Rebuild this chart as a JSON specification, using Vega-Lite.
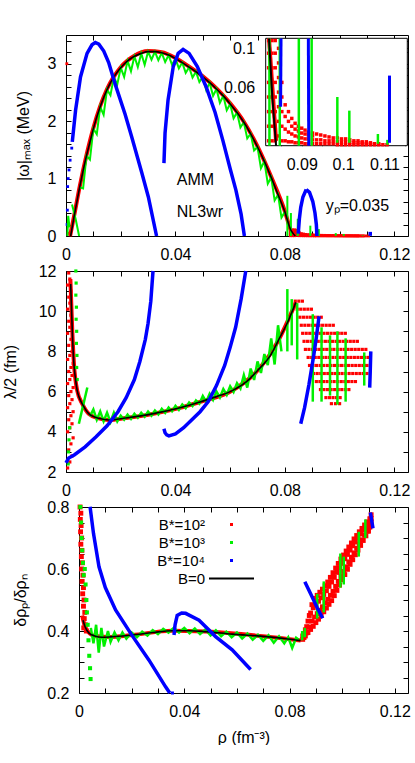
{
"$schema":"https://vega.github.io/schema/vega-lite/v6.json",
"padding":{"left":2,"top":30,"right":0,"bottom":0},
"background":"white",
"config":{
 "view":{"stroke":null},
 "font":"Liberation Sans",
 "axis":{"grid":false,"labelFont":"Liberation Sans","labelFontSize":16,"titleFont":"Liberation Sans","titleFontSize":16,"titleFontWeight":"normal","labelColor":"#000","titleColor":"#000","domainColor":"#000","tickColor":"#000","tickSize":-5,"labelPadding":15,"labelFlush":false,"labelOverlap":false,"labelBound":false},
 "text":{"font":"Liberation Sans","fontSize":16,"color":"#000"}
},
"datasets":{
"p1":[
{"rho":0.0017,"v":0,"s":"k","c":"k1"},{"rho":0.003,"v":0.35,"s":"k","c":"k1"},{"rho":0.004,"v":0.6,"s":"k","c":"k1"},{"rho":0.005,"v":0.85,"s":"k","c":"k1"},{"rho":0.006,"v":1.08,"s":"k","c":"k1"},{"rho":0.0075,"v":1.4,"s":"k","c":"k1"},{"rho":0.009,"v":1.68,"s":"k","c":"k1"},{"rho":0.01,"v":1.87,"s":"k","c":"k1"},{"rho":0.0125,"v":2.25,"s":"k","c":"k1"},{"rho":0.015,"v":2.55,"s":"k","c":"k1"},{"rho":0.0175,"v":2.77,"s":"k","c":"k1"},{"rho":0.02,"v":2.93,"s":"k","c":"k1"},{"rho":0.0225,"v":3.05,"s":"k","c":"k1"},{"rho":0.025,"v":3.13,"s":"k","c":"k1"},{"rho":0.0275,"v":3.18,"s":"k","c":"k1"},{"rho":0.03,"v":3.21,"s":"k","c":"k1"},{"rho":0.0325,"v":3.21,"s":"k","c":"k1"},{"rho":0.035,"v":3.19,"s":"k","c":"k1"},{"rho":0.0375,"v":3.15,"s":"k","c":"k1"},{"rho":0.04,"v":3.09,"s":"k","c":"k1"},{"rho":0.0425,"v":3.02,"s":"k","c":"k1"},{"rho":0.045,"v":2.94,"s":"k","c":"k1"},{"rho":0.0475,"v":2.86,"s":"k","c":"k1"},{"rho":0.05,"v":2.77,"s":"k","c":"k1"},{"rho":0.0525,"v":2.67,"s":"k","c":"k1"},{"rho":0.055,"v":2.56,"s":"k","c":"k1"},{"rho":0.0575,"v":2.44,"s":"k","c":"k1"},{"rho":0.06,"v":2.3,"s":"k","c":"k1"},{"rho":0.0625,"v":2.15,"s":"k","c":"k1"},{"rho":0.065,"v":1.98,"s":"k","c":"k1"},{"rho":0.0675,"v":1.78,"s":"k","c":"k1"},{"rho":0.07,"v":1.55,"s":"k","c":"k1"},{"rho":0.0725,"v":1.3,"s":"k","c":"k1"},{"rho":0.075,"v":1.02,"s":"k","c":"k1"},{"rho":0.0775,"v":0.72,"s":"k","c":"k1"},{"rho":0.08,"v":0.42,"s":"k","c":"k1"},{"rho":0.0821,"v":0.11,"s":"k","c":"k1"},{"rho":0.0829,"v":0.05,"s":"k","c":"k1"},{"rho":0.0838,"v":0,"s":"k","c":"k1"},
{"rho":0.0015,"v":0,"s":"r","c":"r1"},{"rho":0.003,"v":0.36,"s":"r","c":"r1"},{"rho":0.005,"v":0.86,"s":"r","c":"r1"},{"rho":0.0075,"v":1.41,"s":"r","c":"r1"},{"rho":0.01,"v":1.88,"s":"r","c":"r1"},{"rho":0.0125,"v":2.26,"s":"r","c":"r1"},{"rho":0.015,"v":2.56,"s":"r","c":"r1"},{"rho":0.02,"v":2.94,"s":"r","c":"r1"},{"rho":0.025,"v":3.14,"s":"r","c":"r1"},{"rho":0.03,"v":3.22,"s":"r","c":"r1"},{"rho":0.035,"v":3.2,"s":"r","c":"r1"},{"rho":0.04,"v":3.1,"s":"r","c":"r1"},{"rho":0.045,"v":2.95,"s":"r","c":"r1"},{"rho":0.05,"v":2.78,"s":"r","c":"r1"},{"rho":0.055,"v":2.57,"s":"r","c":"r1"},{"rho":0.06,"v":2.31,"s":"r","c":"r1"},{"rho":0.065,"v":1.99,"s":"r","c":"r1"},{"rho":0.07,"v":1.56,"s":"r","c":"r1"},{"rho":0.075,"v":1.03,"s":"r","c":"r1"},{"rho":0.08,"v":0.43,"s":"r","c":"r1"},{"rho":0.0821,"v":0.11,"s":"r","c":"r1"},{"rho":0.0838,"v":0.005,"s":"r","c":"r1"},
{"rho":0.0003,"v":3.0,"s":"r","c":"p"},{"rho":0.001,"v":0.05,"s":"r","c":"p"},{"rho":0.0015,"v":0.02,"s":"r","c":"p"},
{"rho":0.082,"v":0.005,"s":"r","c":"p"},{"rho":0.082,"v":0.02,"s":"r","c":"p"},{"rho":0.082,"v":0.035,"s":"r","c":"p"},{"rho":0.082,"v":0.05,"s":"r","c":"p"},{"rho":0.082,"v":0.065,"s":"r","c":"p"},{"rho":0.082,"v":0.08,"s":"r","c":"p"},{"rho":0.082,"v":0.095,"s":"r","c":"p"},{"rho":0.082,"v":0.108,"s":"r","c":"p"},
{"rho":0.0828,"v":0.005,"s":"r","c":"p"},{"rho":0.0828,"v":0.02,"s":"r","c":"p"},{"rho":0.0828,"v":0.035,"s":"r","c":"p"},{"rho":0.0828,"v":0.05,"s":"r","c":"p"},{"rho":0.0828,"v":0.065,"s":"r","c":"p"},{"rho":0.0828,"v":0.08,"s":"r","c":"p"},{"rho":0.0828,"v":0.095,"s":"r","c":"p"},{"rho":0.0828,"v":0.108,"s":"r","c":"p"},
{"rho":0.0836,"v":0.005,"s":"r","c":"p"},{"rho":0.0836,"v":0.02,"s":"r","c":"p"},{"rho":0.0836,"v":0.035,"s":"r","c":"p"},{"rho":0.0836,"v":0.05,"s":"r","c":"p"},{"rho":0.0836,"v":0.065,"s":"r","c":"p"},{"rho":0.0836,"v":0.08,"s":"r","c":"p"},{"rho":0.0836,"v":0.095,"s":"r","c":"p"},{"rho":0.0836,"v":0.108,"s":"r","c":"p"},
{"rho":0.0844,"v":0.01,"s":"r","c":"p"},{"rho":0.0844,"v":0.025,"s":"r","c":"p"},{"rho":0.0844,"v":0.04,"s":"r","c":"p"},{"rho":0.0844,"v":0.055,"s":"r","c":"p"},{"rho":0.0844,"v":0.07,"s":"r","c":"p"},{"rho":0.0844,"v":0.085,"s":"r","c":"p"},{"rho":0.0844,"v":0.1,"s":"r","c":"p"},
{"rho":0.0852,"v":0.005,"s":"r","c":"p"},{"rho":0.0852,"v":0.02,"s":"r","c":"p"},{"rho":0.0852,"v":0.035,"s":"r","c":"p"},{"rho":0.0852,"v":0.05,"s":"r","c":"p"},{"rho":0.0852,"v":0.065,"s":"r","c":"p"},
{"rho":0.086,"v":0.005,"s":"r","c":"p"},{"rho":0.086,"v":0.017,"s":"r","c":"p"},{"rho":0.086,"v":0.03,"s":"r","c":"p"},{"rho":0.086,"v":0.042,"s":"r","c":"p"},
{"rho":0.0868,"v":0.004,"s":"r","c":"p"},{"rho":0.0868,"v":0.014,"s":"r","c":"p"},{"rho":0.0868,"v":0.025,"s":"r","c":"p"},{"rho":0.0868,"v":0.035,"s":"r","c":"p"},
{"rho":0.0876,"v":0.004,"s":"r","c":"p"},{"rho":0.0876,"v":0.012,"s":"r","c":"p"},{"rho":0.0876,"v":0.02,"s":"r","c":"p"},{"rho":0.0876,"v":0.028,"s":"r","c":"p"},
{"rho":0.0884,"v":0.003,"s":"r","c":"p"},{"rho":0.0884,"v":0.01,"s":"r","c":"p"},{"rho":0.0884,"v":0.017,"s":"r","c":"p"},{"rho":0.0884,"v":0.023,"s":"r","c":"p"},
{"rho":0.0892,"v":0.003,"s":"r","c":"p"},{"rho":0.0892,"v":0.009,"s":"r","c":"p"},{"rho":0.0892,"v":0.015,"s":"r","c":"p"},{"rho":0.0892,"v":0.02,"s":"r","c":"p"},
{"rho":0.09,"v":0.003,"s":"r","c":"p"},{"rho":0.09,"v":0.008,"s":"r","c":"p"},{"rho":0.09,"v":0.013,"s":"r","c":"p"},{"rho":0.09,"v":0.018,"s":"r","c":"p"},
{"rho":0.0908,"v":0.002,"s":"r","c":"p"},{"rho":0.0908,"v":0.007,"s":"r","c":"p"},{"rho":0.0908,"v":0.012,"s":"r","c":"p"},{"rho":0.0908,"v":0.016,"s":"r","c":"p"},
{"rho":0.0916,"v":0.002,"s":"r","c":"p"},{"rho":0.0916,"v":0.007,"s":"r","c":"p"},{"rho":0.0916,"v":0.011,"s":"r","c":"p"},{"rho":0.0916,"v":0.014,"s":"r","c":"p"},
{"rho":0.0926,"v":0.002,"s":"r","c":"p"},{"rho":0.0926,"v":0.006,"s":"r","c":"p"},{"rho":0.0926,"v":0.01,"s":"r","c":"p"},{"rho":0.0926,"v":0.013,"s":"r","c":"p"},
{"rho":0.0936,"v":0.002,"s":"r","c":"p"},{"rho":0.0936,"v":0.006,"s":"r","c":"p"},{"rho":0.0936,"v":0.012,"s":"r","c":"p"},
{"rho":0.0946,"v":0.002,"s":"r","c":"p"},{"rho":0.0946,"v":0.006,"s":"r","c":"p"},{"rho":0.0946,"v":0.011,"s":"r","c":"p"},
{"rho":0.0956,"v":0.002,"s":"r","c":"p"},{"rho":0.0956,"v":0.005,"s":"r","c":"p"},{"rho":0.0956,"v":0.01,"s":"r","c":"p"},
{"rho":0.0966,"v":0.002,"s":"r","c":"p"},{"rho":0.0966,"v":0.005,"s":"r","c":"p"},{"rho":0.0966,"v":0.009,"s":"r","c":"p"},
{"rho":0.0976,"v":0.002,"s":"r","c":"p"},{"rho":0.0976,"v":0.005,"s":"r","c":"p"},{"rho":0.0976,"v":0.008,"s":"r","c":"p"},
{"rho":0.0986,"v":0.001,"s":"r","c":"p"},{"rho":0.0986,"v":0.004,"s":"r","c":"p"},{"rho":0.0986,"v":0.008,"s":"r","c":"p"},
{"rho":0.0996,"v":0.001,"s":"r","c":"p"},{"rho":0.0996,"v":0.004,"s":"r","c":"p"},{"rho":0.0996,"v":0.007,"s":"r","c":"p"},
{"rho":0.1006,"v":0.001,"s":"r","c":"p"},{"rho":0.1006,"v":0.004,"s":"r","c":"p"},{"rho":0.1006,"v":0.007,"s":"r","c":"p"},
{"rho":0.1016,"v":0.001,"s":"r","c":"p"},{"rho":0.1016,"v":0.003,"s":"r","c":"p"},{"rho":0.1016,"v":0.006,"s":"r","c":"p"},
{"rho":0.1026,"v":0.001,"s":"r","c":"p"},{"rho":0.1026,"v":0.003,"s":"r","c":"p"},{"rho":0.1026,"v":0.005,"s":"r","c":"p"},
{"rho":0.1036,"v":0.001,"s":"r","c":"p"},{"rho":0.1036,"v":0.003,"s":"r","c":"p"},{"rho":0.1036,"v":0.005,"s":"r","c":"p"},
{"rho":0.1046,"v":0.001,"s":"r","c":"p"},{"rho":0.1046,"v":0.003,"s":"r","c":"p"},{"rho":0.1046,"v":0.004,"s":"r","c":"p"},
{"rho":0.1056,"v":0.001,"s":"r","c":"p"},{"rho":0.1056,"v":0.002,"s":"r","c":"p"},{"rho":0.1056,"v":0.004,"s":"r","c":"p"},
{"rho":0.1066,"v":0.001,"s":"r","c":"p"},{"rho":0.1066,"v":0.002,"s":"r","c":"p"},{"rho":0.1066,"v":0.003,"s":"r","c":"p"},
{"rho":0.1076,"v":0.001,"s":"r","c":"p"},{"rho":0.1076,"v":0.002,"s":"r","c":"p"},{"rho":0.1086,"v":0.001,"s":"r","c":"p"},{"rho":0.1086,"v":0.002,"s":"r","c":"p"},{"rho":0.1096,"v":0.001,"s":"r","c":"p"},{"rho":0.1106,"v":0.001,"s":"r","c":"p"},
{"rho":0.0005,"v":0,"s":"g","c":"g0"},{"rho":0.0008,"v":0.35,"s":"g","c":"g0"},{"rho":0.0013,"v":0.15,"s":"g","c":"g0"},
{"rho":0.0022,"v":0.55,"s":"g","c":"g2"},{"rho":0.0035,"v":0.3,"s":"g","c":"g2"},{"rho":0.0048,"v":0,"s":"g","c":"g2"},
{"rho":0.005,"v":0.85,"s":"g","c":"g1"},{"rho":0.00625,"v":0.83,"s":"g","c":"g1"},{"rho":0.0075,"v":1.4,"s":"g","c":"g1"},{"rho":0.00875,"v":1.33,"s":"g","c":"g1"},{"rho":0.01,"v":1.87,"s":"g","c":"g1"},{"rho":0.01125,"v":1.77,"s":"g","c":"g1"},{"rho":0.0125,"v":2.25,"s":"g","c":"g1"},{"rho":0.01375,"v":2.11,"s":"g","c":"g1"},{"rho":0.015,"v":2.55,"s":"g","c":"g1"},{"rho":0.01625,"v":2.45,"s":"g","c":"g1"},{"rho":0.0175,"v":2.77,"s":"g","c":"g1"},{"rho":0.01875,"v":2.64,"s":"g","c":"g1"},{"rho":0.02,"v":2.93,"s":"g","c":"g1"},{"rho":0.02125,"v":2.77,"s":"g","c":"g1"},{"rho":0.0225,"v":3.05,"s":"g","c":"g1"},{"rho":0.02375,"v":2.87,"s":"g","c":"g1"},{"rho":0.025,"v":3.13,"s":"g","c":"g1"},{"rho":0.02625,"v":2.94,"s":"g","c":"g1"},{"rho":0.0275,"v":3.18,"s":"g","c":"g1"},{"rho":0.02875,"v":2.98,"s":"g","c":"g1"},{"rho":0.03,"v":3.21,"s":"g","c":"g1"},{"rho":0.03125,"v":3.07,"s":"g","c":"g1"},{"rho":0.0325,"v":3.21,"s":"g","c":"g1"},{"rho":0.03375,"v":3.06,"s":"g","c":"g1"},{"rho":0.035,"v":3.19,"s":"g","c":"g1"},{"rho":0.03625,"v":3.03,"s":"g","c":"g1"},{"rho":0.0375,"v":3.15,"s":"g","c":"g1"},{"rho":0.03875,"v":2.98,"s":"g","c":"g1"},{"rho":0.04,"v":3.09,"s":"g","c":"g1"},{"rho":0.04125,"v":2.92,"s":"g","c":"g1"},{"rho":0.0425,"v":3.02,"s":"g","c":"g1"},{"rho":0.04375,"v":2.84,"s":"g","c":"g1"},{"rho":0.045,"v":2.94,"s":"g","c":"g1"},{"rho":0.04625,"v":2.76,"s":"g","c":"g1"},{"rho":0.0475,"v":2.86,"s":"g","c":"g1"},{"rho":0.04875,"v":2.68,"s":"g","c":"g1"},{"rho":0.05,"v":2.77,"s":"g","c":"g1"},{"rho":0.05125,"v":2.54,"s":"g","c":"g1"},{"rho":0.0525,"v":2.67,"s":"g","c":"g1"},{"rho":0.05375,"v":2.44,"s":"g","c":"g1"},{"rho":0.055,"v":2.56,"s":"g","c":"g1"},{"rho":0.05625,"v":2.32,"s":"g","c":"g1"},{"rho":0.0575,"v":2.44,"s":"g","c":"g1"},{"rho":0.05875,"v":2.19,"s":"g","c":"g1"},{"rho":0.06,"v":2.3,"s":"g","c":"g1"},{"rho":0.06125,"v":2.05,"s":"g","c":"g1"},{"rho":0.0625,"v":2.15,"s":"g","c":"g1"},{"rho":0.06375,"v":1.89,"s":"g","c":"g1"},{"rho":0.065,"v":1.98,"s":"g","c":"g1"},{"rho":0.06625,"v":1.7,"s":"g","c":"g1"},{"rho":0.0675,"v":1.78,"s":"g","c":"g1"},{"rho":0.06875,"v":1.49,"s":"g","c":"g1"},{"rho":0.07,"v":1.55,"s":"g","c":"g1"},{"rho":0.07125,"v":1.18,"s":"g","c":"g1"},{"rho":0.0725,"v":1.3,"s":"g","c":"g1"},{"rho":0.07375,"v":0.91,"s":"g","c":"g1"},{"rho":0.075,"v":1.02,"s":"g","c":"g1"},{"rho":0.07625,"v":0.62,"s":"g","c":"g1"},{"rho":0.0775,"v":0.72,"s":"g","c":"g1"},{"rho":0.07875,"v":0.32,"s":"g","c":"g1"},{"rho":0.08,"v":0.42,"s":"g","c":"g1"},
{"rho":0.0809,"v":0,"s":"g","c":"gc0"},{"rho":0.0809,"v":0.7,"s":"g","c":"gc0"},
{"rho":0.0822,"v":0,"s":"g","c":"gc1"},{"rho":0.0822,"v":0.11,"s":"g","c":"gc1"},{"rho":0.0822,"v":0.4,"s":"g","c":"gc1"},
{"rho":0.0847,"v":0,"s":"g","c":"gc2"},{"rho":0.0847,"v":0.11,"s":"g","c":"gc2"},{"rho":0.0847,"v":0.3,"s":"g","c":"gc2"},
{"rho":0.0893,"v":0,"s":"g","c":"gc3"},{"rho":0.0893,"v":0.11,"s":"g","c":"gc3"},{"rho":0.0893,"v":0.18,"s":"g","c":"gc3"},
{"rho":0.0924,"v":0,"s":"g","c":"gc4"},{"rho":0.0924,"v":0.11,"s":"g","c":"gc4"},{"rho":0.0924,"v":0.12,"s":"g","c":"gc4"},
{"rho":0.0986,"v":0.003,"s":"g","c":"gc5"},{"rho":0.0986,"v":0.05,"s":"g","c":"gc5"},
{"rho":0.1015,"v":0.003,"s":"g","c":"gc6"},{"rho":0.1015,"v":0.036,"s":"g","c":"gc6"},
{"rho":0.1084,"v":0.002,"s":"g","c":"gc7"},{"rho":0.1084,"v":0.012,"s":"g","c":"gc7"},
{"rho":0.1107,"v":0.001,"s":"g","c":"gc8"},{"rho":0.1107,"v":0.006,"s":"g","c":"gc8"},
{"rho":0.0023,"v":1.64,"s":"b","c":"b1"},{"rho":0.0035,"v":2.19,"s":"b","c":"b1"},{"rho":0.0053,"v":2.77,"s":"b","c":"b1"},{"rho":0.0077,"v":3.18,"s":"b","c":"b1"},{"rho":0.0095,"v":3.33,"s":"b","c":"b1"},{"rho":0.0107,"v":3.37,"s":"b","c":"b1"},{"rho":0.012,"v":3.34,"s":"b","c":"b1"},{"rho":0.0138,"v":3.22,"s":"b","c":"b1"},{"rho":0.0156,"v":3.02,"s":"b","c":"b1"},{"rho":0.018,"v":2.64,"s":"b","c":"b1"},{"rho":0.0216,"v":2.12,"s":"b","c":"b1"},{"rho":0.024,"v":1.73,"s":"b","c":"b1"},{"rho":0.0277,"v":1.1,"s":"b","c":"b1"},{"rho":0.0301,"v":0.68,"s":"b","c":"b1"},{"rho":0.0331,"v":0,"s":"b","c":"b1"},
{"rho":0.0358,"v":1.27,"s":"b","c":"b2"},{"rho":0.0362,"v":1.79,"s":"b","c":"b2"},{"rho":0.0373,"v":2.37,"s":"b","c":"b2"},{"rho":0.0392,"v":2.95,"s":"b","c":"b2"},{"rho":0.041,"v":3.18,"s":"b","c":"b2"},{"rho":0.0428,"v":3.25,"s":"b","c":"b2"},{"rho":0.045,"v":3.18,"s":"b","c":"b2"},{"rho":0.048,"v":2.95,"s":"b","c":"b2"},{"rho":0.0512,"v":2.6,"s":"b","c":"b2"},{"rho":0.0545,"v":2.15,"s":"b","c":"b2"},{"rho":0.0573,"v":1.67,"s":"b","c":"b2"},{"rho":0.06,"v":1.17,"s":"b","c":"b2"},{"rho":0.0621,"v":0.8,"s":"b","c":"b2"},{"rho":0.064,"v":0.38,"s":"b","c":"b2"},{"rho":0.0652,"v":0,"s":"b","c":"b2"},
{"rho":0.0849,"v":0.04,"s":"b","c":"b3a"},{"rho":0.085,"v":0.11,"s":"b","c":"b3a"},{"rho":0.0853,"v":0.3,"s":"b","c":"b3a"},{"rho":0.0858,"v":0.5,"s":"b","c":"b3a"},{"rho":0.0866,"v":0.68,"s":"b","c":"b3a"},{"rho":0.0878,"v":0.81,"s":"b","c":"b3a"},
{"rho":0.0878,"v":0.81,"s":"b","c":"b3b"},{"rho":0.089,"v":0.76,"s":"b","c":"b3b"},{"rho":0.0902,"v":0.6,"s":"b","c":"b3b"},{"rho":0.091,"v":0.4,"s":"b","c":"b3b"},{"rho":0.0915,"v":0.2,"s":"b","c":"b3b"},{"rho":0.0916,"v":0.11,"s":"b","c":"b3b"},{"rho":0.0917,"v":0,"s":"b","c":"b3b"},
{"rho":0.1112,"v":0.003,"s":"b","c":"b4"},{"rho":0.1112,"v":0.072,"s":"b","c":"b4"},
{"rho":0.0004,"v":0.2,"s":"b","c":"p"},{"rho":0.0005,"v":0.45,"s":"b","c":"p"},{"rho":0.0006,"v":0.86,"s":"b","c":"p"},{"rho":0.0008,"v":1.0,"s":"b","c":"p"},{"rho":0.0011,"v":1.15,"s":"b","c":"p"},{"rho":0.0015,"v":1.32,"s":"b","c":"p"},{"rho":0.0021,"v":1.53,"s":"b","c":"p"}
],
"p2":[
{"rho":0.0017,"v":11.35,"s":"k","c":"k1"},{"rho":0.002,"v":10.2,"s":"k","c":"k1"},{"rho":0.0023,"v":9.0,"s":"k","c":"k1"},{"rho":0.0029,"v":7.37,"s":"k","c":"k1"},{"rho":0.0035,"v":6.6,"s":"k","c":"k1"},{"rho":0.0041,"v":6.05,"s":"k","c":"k1"},{"rho":0.005,"v":5.65,"s":"k","c":"k1"},{"rho":0.006,"v":5.38,"s":"k","c":"k1"},{"rho":0.0072,"v":5.1,"s":"k","c":"k1"},{"rho":0.0084,"v":4.89,"s":"k","c":"k1"},{"rho":0.01,"v":4.76,"s":"k","c":"k1"},{"rho":0.012,"v":4.67,"s":"k","c":"k1"},{"rho":0.0157,"v":4.59,"s":"k","c":"k1"},{"rho":0.0218,"v":4.69,"s":"k","c":"k1"},{"rho":0.0315,"v":4.89,"s":"k","c":"k1"},{"rho":0.0413,"v":5.18,"s":"k","c":"k1"},{"rho":0.0486,"v":5.47,"s":"k","c":"k1"},{"rho":0.055,"v":5.75,"s":"k","c":"k1"},{"rho":0.0608,"v":6.05,"s":"k","c":"k1"},{"rho":0.066,"v":6.5,"s":"k","c":"k1"},{"rho":0.0705,"v":7.12,"s":"k","c":"k1"},{"rho":0.0745,"v":7.75,"s":"k","c":"k1"},{"rho":0.0779,"v":8.62,"s":"k","c":"k1"},{"rho":0.081,"v":9.45,"s":"k","c":"k1"},{"rho":0.084,"v":10.44,"s":"k","c":"k1"},
{"rho":0.0016,"v":11.6,"s":"r","c":"r1"},{"rho":0.0023,"v":9.0,"s":"r","c":"r1"},{"rho":0.0029,"v":7.4,"s":"r","c":"r1"},{"rho":0.0041,"v":6.05,"s":"r","c":"r1"},{"rho":0.006,"v":5.38,"s":"r","c":"r1"},{"rho":0.0084,"v":4.89,"s":"r","c":"r1"},{"rho":0.012,"v":4.67,"s":"r","c":"r1"},{"rho":0.0157,"v":4.59,"s":"r","c":"r1"},{"rho":0.0218,"v":4.69,"s":"r","c":"r1"},{"rho":0.0315,"v":4.89,"s":"r","c":"r1"},{"rho":0.0413,"v":5.18,"s":"r","c":"r1"},{"rho":0.0486,"v":5.47,"s":"r","c":"r1"},{"rho":0.0608,"v":6.05,"s":"r","c":"r1"},{"rho":0.0705,"v":7.12,"s":"r","c":"r1"},{"rho":0.0779,"v":8.62,"s":"r","c":"r1"},{"rho":0.084,"v":10.44,"s":"r","c":"r1"},
{"rho":0.0006,"v":2.2,"s":"r","c":"p"},{"rho":0.0014,"v":2.5,"s":"r","c":"p"},{"rho":0.0022,"v":2.8,"s":"r","c":"p"},{"rho":0.001,"v":3.1,"s":"r","c":"p"},{"rho":0.0018,"v":3.4,"s":"r","c":"p"},{"rho":0.0026,"v":3.7,"s":"r","c":"p"},{"rho":0.0006,"v":4.0,"s":"r","c":"p"},{"rho":0.0014,"v":4.2,"s":"r","c":"p"},{"rho":0.0022,"v":4.4,"s":"r","c":"p"},{"rho":0.001,"v":4.6,"s":"r","c":"p"},{"rho":0.0018,"v":4.8,"s":"r","c":"p"},{"rho":0.0026,"v":5.0,"s":"r","c":"p"},{"rho":0.0006,"v":5.2,"s":"r","c":"p"},{"rho":0.0014,"v":5.4,"s":"r","c":"p"},{"rho":0.0022,"v":5.6,"s":"r","c":"p"},{"rho":0.001,"v":5.8,"s":"r","c":"p"},{"rho":0.0018,"v":6.0,"s":"r","c":"p"},{"rho":0.0026,"v":6.2,"s":"r","c":"p"},{"rho":0.0006,"v":6.4,"s":"r","c":"p"},{"rho":0.0014,"v":6.6,"s":"r","c":"p"},{"rho":0.0022,"v":6.8,"s":"r","c":"p"},{"rho":0.001,"v":7.0,"s":"r","c":"p"},{"rho":0.0018,"v":7.2,"s":"r","c":"p"},{"rho":0.0026,"v":7.4,"s":"r","c":"p"},{"rho":0.0006,"v":7.6,"s":"r","c":"p"},{"rho":0.0014,"v":7.8,"s":"r","c":"p"},{"rho":0.0022,"v":8.0,"s":"r","c":"p"},{"rho":0.001,"v":8.3,"s":"r","c":"p"},{"rho":0.0018,"v":8.6,"s":"r","c":"p"},{"rho":0.0006,"v":8.9,"s":"r","c":"p"},{"rho":0.0014,"v":9.2,"s":"r","c":"p"},{"rho":0.001,"v":9.5,"s":"r","c":"p"},{"rho":0.0018,"v":9.8,"s":"r","c":"p"},{"rho":0.0006,"v":10.1,"s":"r","c":"p"},{"rho":0.0014,"v":10.4,"s":"r","c":"p"},{"rho":0.001,"v":10.7,"s":"r","c":"p"},{"rho":0.0018,"v":11.0,"s":"r","c":"p"},{"rho":0.0006,"v":11.3,"s":"r","c":"p"},{"rho":0.0014,"v":11.6,"s":"r","c":"p"},{"rho":0.001,"v":11.9,"s":"r","c":"p"},
{"rho":0.0838,"v":10.5,"s":"r","c":"p"},{"rho":0.0851,"v":10.5,"s":"r","c":"p"},{"rho":0.0864,"v":10.5,"s":"r","c":"p"},
{"rho":0.0845,"v":10.1,"s":"r","c":"p"},{"rho":0.0858,"v":10.1,"s":"r","c":"p"},{"rho":0.0871,"v":10.1,"s":"r","c":"p"},{"rho":0.0884,"v":10.1,"s":"r","c":"p"},{"rho":0.0897,"v":10.1,"s":"r","c":"p"},
{"rho":0.0855,"v":9.7,"s":"r","c":"p"},{"rho":0.0868,"v":9.7,"s":"r","c":"p"},{"rho":0.0881,"v":9.7,"s":"r","c":"p"},{"rho":0.0894,"v":9.7,"s":"r","c":"p"},{"rho":0.0907,"v":9.7,"s":"r","c":"p"},{"rho":0.092,"v":9.7,"s":"r","c":"p"},{"rho":0.0933,"v":9.7,"s":"r","c":"p"},
{"rho":0.086,"v":9.3,"s":"r","c":"p"},{"rho":0.0873,"v":9.3,"s":"r","c":"p"},{"rho":0.0886,"v":9.3,"s":"r","c":"p"},{"rho":0.0899,"v":9.3,"s":"r","c":"p"},{"rho":0.0912,"v":9.3,"s":"r","c":"p"},{"rho":0.0925,"v":9.3,"s":"r","c":"p"},{"rho":0.0938,"v":9.3,"s":"r","c":"p"},{"rho":0.0951,"v":9.3,"s":"r","c":"p"},{"rho":0.0964,"v":9.3,"s":"r","c":"p"},{"rho":0.0977,"v":9.3,"s":"r","c":"p"},
{"rho":0.0865,"v":8.9,"s":"r","c":"p"},{"rho":0.0878,"v":8.9,"s":"r","c":"p"},{"rho":0.0891,"v":8.9,"s":"r","c":"p"},{"rho":0.0904,"v":8.9,"s":"r","c":"p"},{"rho":0.0917,"v":8.9,"s":"r","c":"p"},{"rho":0.093,"v":8.9,"s":"r","c":"p"},{"rho":0.0943,"v":8.9,"s":"r","c":"p"},{"rho":0.0956,"v":8.9,"s":"r","c":"p"},{"rho":0.0969,"v":8.9,"s":"r","c":"p"},{"rho":0.0982,"v":8.9,"s":"r","c":"p"},{"rho":0.0995,"v":8.9,"s":"r","c":"p"},{"rho":0.1008,"v":8.9,"s":"r","c":"p"},{"rho":0.1021,"v":8.9,"s":"r","c":"p"},
{"rho":0.087,"v":8.5,"s":"r","c":"p"},{"rho":0.0883,"v":8.5,"s":"r","c":"p"},{"rho":0.0896,"v":8.5,"s":"r","c":"p"},{"rho":0.0909,"v":8.5,"s":"r","c":"p"},{"rho":0.0922,"v":8.5,"s":"r","c":"p"},{"rho":0.0935,"v":8.5,"s":"r","c":"p"},{"rho":0.0948,"v":8.5,"s":"r","c":"p"},{"rho":0.0961,"v":8.5,"s":"r","c":"p"},{"rho":0.0974,"v":8.5,"s":"r","c":"p"},{"rho":0.0987,"v":8.5,"s":"r","c":"p"},{"rho":0.1,"v":8.5,"s":"r","c":"p"},{"rho":0.1013,"v":8.5,"s":"r","c":"p"},{"rho":0.1026,"v":8.5,"s":"r","c":"p"},{"rho":0.1039,"v":8.5,"s":"r","c":"p"},{"rho":0.1052,"v":8.5,"s":"r","c":"p"},{"rho":0.1065,"v":8.5,"s":"r","c":"p"},
{"rho":0.0875,"v":8.1,"s":"r","c":"p"},{"rho":0.0888,"v":8.1,"s":"r","c":"p"},{"rho":0.0901,"v":8.1,"s":"r","c":"p"},{"rho":0.0914,"v":8.1,"s":"r","c":"p"},{"rho":0.0927,"v":8.1,"s":"r","c":"p"},{"rho":0.094,"v":8.1,"s":"r","c":"p"},{"rho":0.0953,"v":8.1,"s":"r","c":"p"},{"rho":0.0966,"v":8.1,"s":"r","c":"p"},{"rho":0.0979,"v":8.1,"s":"r","c":"p"},{"rho":0.0992,"v":8.1,"s":"r","c":"p"},{"rho":0.1005,"v":8.1,"s":"r","c":"p"},{"rho":0.1018,"v":8.1,"s":"r","c":"p"},{"rho":0.1031,"v":8.1,"s":"r","c":"p"},{"rho":0.1044,"v":8.1,"s":"r","c":"p"},{"rho":0.1057,"v":8.1,"s":"r","c":"p"},{"rho":0.107,"v":8.1,"s":"r","c":"p"},{"rho":0.1083,"v":8.1,"s":"r","c":"p"},{"rho":0.1096,"v":8.1,"s":"r","c":"p"},
{"rho":0.0885,"v":7.7,"s":"r","c":"p"},{"rho":0.0898,"v":7.7,"s":"r","c":"p"},{"rho":0.0911,"v":7.7,"s":"r","c":"p"},{"rho":0.0924,"v":7.7,"s":"r","c":"p"},{"rho":0.0937,"v":7.7,"s":"r","c":"p"},{"rho":0.095,"v":7.7,"s":"r","c":"p"},{"rho":0.0963,"v":7.7,"s":"r","c":"p"},{"rho":0.0976,"v":7.7,"s":"r","c":"p"},{"rho":0.0989,"v":7.7,"s":"r","c":"p"},{"rho":0.1002,"v":7.7,"s":"r","c":"p"},{"rho":0.1015,"v":7.7,"s":"r","c":"p"},{"rho":0.1028,"v":7.7,"s":"r","c":"p"},{"rho":0.1041,"v":7.7,"s":"r","c":"p"},{"rho":0.1054,"v":7.7,"s":"r","c":"p"},{"rho":0.1067,"v":7.7,"s":"r","c":"p"},{"rho":0.108,"v":7.7,"s":"r","c":"p"},{"rho":0.1093,"v":7.7,"s":"r","c":"p"},{"rho":0.1106,"v":7.7,"s":"r","c":"p"},
{"rho":0.089,"v":7.3,"s":"r","c":"p"},{"rho":0.0903,"v":7.3,"s":"r","c":"p"},{"rho":0.0916,"v":7.3,"s":"r","c":"p"},{"rho":0.0929,"v":7.3,"s":"r","c":"p"},{"rho":0.0942,"v":7.3,"s":"r","c":"p"},{"rho":0.0955,"v":7.3,"s":"r","c":"p"},{"rho":0.0968,"v":7.3,"s":"r","c":"p"},{"rho":0.0981,"v":7.3,"s":"r","c":"p"},{"rho":0.0994,"v":7.3,"s":"r","c":"p"},{"rho":0.1007,"v":7.3,"s":"r","c":"p"},{"rho":0.102,"v":7.3,"s":"r","c":"p"},{"rho":0.1033,"v":7.3,"s":"r","c":"p"},{"rho":0.1046,"v":7.3,"s":"r","c":"p"},{"rho":0.1059,"v":7.3,"s":"r","c":"p"},{"rho":0.1072,"v":7.3,"s":"r","c":"p"},{"rho":0.1085,"v":7.3,"s":"r","c":"p"},{"rho":0.1098,"v":7.3,"s":"r","c":"p"},{"rho":0.1111,"v":7.3,"s":"r","c":"p"},
{"rho":0.0905,"v":6.9,"s":"r","c":"p"},{"rho":0.0918,"v":6.9,"s":"r","c":"p"},{"rho":0.0931,"v":6.9,"s":"r","c":"p"},{"rho":0.0944,"v":6.9,"s":"r","c":"p"},{"rho":0.0957,"v":6.9,"s":"r","c":"p"},{"rho":0.097,"v":6.9,"s":"r","c":"p"},{"rho":0.0983,"v":6.9,"s":"r","c":"p"},{"rho":0.0996,"v":6.9,"s":"r","c":"p"},{"rho":0.1009,"v":6.9,"s":"r","c":"p"},{"rho":0.1022,"v":6.9,"s":"r","c":"p"},{"rho":0.1035,"v":6.9,"s":"r","c":"p"},{"rho":0.1048,"v":6.9,"s":"r","c":"p"},{"rho":0.1061,"v":6.9,"s":"r","c":"p"},{"rho":0.1074,"v":6.9,"s":"r","c":"p"},{"rho":0.1087,"v":6.9,"s":"r","c":"p"},{"rho":0.11,"v":6.9,"s":"r","c":"p"},
{"rho":0.0915,"v":6.5,"s":"r","c":"p"},{"rho":0.0928,"v":6.5,"s":"r","c":"p"},{"rho":0.0941,"v":6.5,"s":"r","c":"p"},{"rho":0.0954,"v":6.5,"s":"r","c":"p"},{"rho":0.0967,"v":6.5,"s":"r","c":"p"},{"rho":0.098,"v":6.5,"s":"r","c":"p"},{"rho":0.0993,"v":6.5,"s":"r","c":"p"},{"rho":0.1006,"v":6.5,"s":"r","c":"p"},{"rho":0.1019,"v":6.5,"s":"r","c":"p"},{"rho":0.1032,"v":6.5,"s":"r","c":"p"},{"rho":0.1045,"v":6.5,"s":"r","c":"p"},{"rho":0.1058,"v":6.5,"s":"r","c":"p"},
{"rho":0.093,"v":6.1,"s":"r","c":"p"},{"rho":0.0943,"v":6.1,"s":"r","c":"p"},{"rho":0.0956,"v":6.1,"s":"r","c":"p"},{"rho":0.0969,"v":6.1,"s":"r","c":"p"},{"rho":0.0982,"v":6.1,"s":"r","c":"p"},{"rho":0.0995,"v":6.1,"s":"r","c":"p"},{"rho":0.1008,"v":6.1,"s":"r","c":"p"},{"rho":0.1021,"v":6.1,"s":"r","c":"p"},{"rho":0.1034,"v":6.1,"s":"r","c":"p"},
{"rho":0.095,"v":5.7,"s":"r","c":"p"},{"rho":0.0963,"v":5.7,"s":"r","c":"p"},{"rho":0.0976,"v":5.7,"s":"r","c":"p"},{"rho":0.0989,"v":5.7,"s":"r","c":"p"},{"rho":0.1002,"v":5.7,"s":"r","c":"p"},
{"rho":0.097,"v":5.4,"s":"r","c":"p"},{"rho":0.0985,"v":5.4,"s":"r","c":"p"},{"rho":0.1,"v":5.4,"s":"r","c":"p"},
{"rho":0.0036,"v":12,"s":"g","c":"p"},{"rho":0.0037,"v":11.4,"s":"g","c":"p"},{"rho":0.0036,"v":10.8,"s":"g","c":"p"},{"rho":0.0038,"v":10.2,"s":"g","c":"p"},{"rho":0.0037,"v":9.6,"s":"g","c":"p"},{"rho":0.0039,"v":9.0,"s":"g","c":"p"},{"rho":0.0038,"v":8.4,"s":"g","c":"p"},{"rho":0.004,"v":7.8,"s":"g","c":"p"},{"rho":0.0039,"v":7.2,"s":"g","c":"p"},{"rho":0.0041,"v":6.6,"s":"g","c":"p"},{"rho":0.0008,"v":2.4,"s":"g","c":"p"},{"rho":0.0009,"v":3.0,"s":"g","c":"p"},{"rho":0.0011,"v":3.6,"s":"g","c":"p"},{"rho":0.0013,"v":4.2,"s":"g","c":"p"},
{"rho":0.0047,"v":4.4,"s":"g","c":"gs"},{"rho":0.0078,"v":6.2,"s":"g","c":"gs"},
{"rho":0.00875,"v":4.77,"s":"g","c":"g1"},{"rho":0.01,"v":5.11,"s":"g","c":"g1"},{"rho":0.01125,"v":4.6,"s":"g","c":"g1"},{"rho":0.0125,"v":5.01,"s":"g","c":"g1"},{"rho":0.01375,"v":4.53,"s":"g","c":"g1"},{"rho":0.015,"v":4.95,"s":"g","c":"g1"},{"rho":0.01625,"v":4.49,"s":"g","c":"g1"},{"rho":0.0175,"v":4.95,"s":"g","c":"g1"},{"rho":0.01875,"v":4.52,"s":"g","c":"g1"},{"rho":0.02,"v":4.8,"s":"g","c":"g1"},{"rho":0.02125,"v":4.6,"s":"g","c":"g1"},{"rho":0.0225,"v":4.85,"s":"g","c":"g1"},{"rho":0.02375,"v":4.64,"s":"g","c":"g1"},{"rho":0.025,"v":4.9,"s":"g","c":"g1"},{"rho":0.02625,"v":4.7,"s":"g","c":"g1"},{"rho":0.0275,"v":4.95,"s":"g","c":"g1"},{"rho":0.02875,"v":4.75,"s":"g","c":"g1"},{"rho":0.03,"v":5.01,"s":"g","c":"g1"},{"rho":0.03125,"v":4.8,"s":"g","c":"g1"},{"rho":0.0325,"v":5.06,"s":"g","c":"g1"},{"rho":0.03375,"v":4.87,"s":"g","c":"g1"},{"rho":0.035,"v":5.14,"s":"g","c":"g1"},{"rho":0.03625,"v":4.94,"s":"g","c":"g1"},{"rho":0.0375,"v":5.21,"s":"g","c":"g1"},{"rho":0.03875,"v":5.02,"s":"g","c":"g1"},{"rho":0.04,"v":5.29,"s":"g","c":"g1"},{"rho":0.04125,"v":5.09,"s":"g","c":"g1"},{"rho":0.0425,"v":5.36,"s":"g","c":"g1"},{"rho":0.04375,"v":5.18,"s":"g","c":"g1"},{"rho":0.045,"v":5.46,"s":"g","c":"g1"},{"rho":0.04625,"v":5.28,"s":"g","c":"g1"},{"rho":0.0475,"v":5.56,"s":"g","c":"g1"},{"rho":0.04875,"v":5.4,"s":"g","c":"g1"},{"rho":0.05,"v":5.78,"s":"g","c":"g1"},{"rho":0.05125,"v":5.49,"s":"g","c":"g1"},{"rho":0.0525,"v":5.89,"s":"g","c":"g1"},{"rho":0.05375,"v":5.59,"s":"g","c":"g1"},{"rho":0.055,"v":6.0,"s":"g","c":"g1"},{"rho":0.05625,"v":5.71,"s":"g","c":"g1"},{"rho":0.0575,"v":6.13,"s":"g","c":"g1"},{"rho":0.05875,"v":5.84,"s":"g","c":"g1"},{"rho":0.06,"v":6.26,"s":"g","c":"g1"},{"rho":0.06125,"v":5.98,"s":"g","c":"g1"},{"rho":0.0625,"v":6.42,"s":"g","c":"g1"},{"rho":0.06375,"v":6.16,"s":"g","c":"g1"},{"rho":0.065,"v":6.82,"s":"g","c":"g1"},{"rho":0.06625,"v":6.2,"s":"g","c":"g1"},{"rho":0.0675,"v":7.15,"s":"g","c":"g1"},{"rho":0.06875,"v":6.58,"s":"g","c":"g1"},{"rho":0.07,"v":7.5,"s":"g","c":"g1"},{"rho":0.07125,"v":6.93,"s":"g","c":"g1"},{"rho":0.0725,"v":7.87,"s":"g","c":"g1"},{"rho":0.07375,"v":7.32,"s":"g","c":"g1"},{"rho":0.075,"v":8.65,"s":"g","c":"g1"},{"rho":0.07625,"v":7.35,"s":"g","c":"g1"},{"rho":0.0775,"v":9.3,"s":"g","c":"g1"},{"rho":0.07875,"v":8.0,"s":"g","c":"g1"},
{"rho":0.0809,"v":8.0,"s":"g","c":"gc0"},{"rho":0.0809,"v":11.1,"s":"g","c":"gc0"},
{"rho":0.0825,"v":8.3,"s":"g","c":"gc1"},{"rho":0.0825,"v":10.6,"s":"g","c":"gc1"},
{"rho":0.0845,"v":7.6,"s":"g","c":"gc2"},{"rho":0.0845,"v":10.4,"s":"g","c":"gc2"},
{"rho":0.0902,"v":5.5,"s":"g","c":"gc3"},{"rho":0.0902,"v":9.85,"s":"g","c":"gc3"},
{"rho":0.0934,"v":5.5,"s":"g","c":"gc4"},{"rho":0.0934,"v":9.2,"s":"g","c":"gc4"},
{"rho":0.0965,"v":5.8,"s":"g","c":"gc5"},{"rho":0.0965,"v":8.8,"s":"g","c":"gc5"},
{"rho":0.0992,"v":5.35,"s":"g","c":"gc6"},{"rho":0.0992,"v":9.0,"s":"g","c":"gc6"},
{"rho":0.1022,"v":5.5,"s":"g","c":"gc7"},{"rho":0.1022,"v":8.65,"s":"g","c":"gc7"},
{"rho":0.109,"v":6.3,"s":"g","c":"gc8"},{"rho":0.109,"v":7.95,"s":"g","c":"gc8"},
{"rho":0.0,"v":2.45,"s":"b","c":"b1"},{"rho":0.001,"v":2.7,"s":"b","c":"b1"},{"rho":0.003,"v":2.85,"s":"b","c":"b1"},{"rho":0.007,"v":3.25,"s":"b","c":"b1"},{"rho":0.011,"v":3.75,"s":"b","c":"b1"},{"rho":0.015,"v":4.3,"s":"b","c":"b1"},{"rho":0.019,"v":5.0,"s":"b","c":"b1"},{"rho":0.022,"v":5.7,"s":"b","c":"b1"},{"rho":0.025,"v":6.6,"s":"b","c":"b1"},{"rho":0.027,"v":7.5,"s":"b","c":"b1"},{"rho":0.029,"v":8.6,"s":"b","c":"b1"},{"rho":0.03,"v":9.4,"s":"b","c":"b1"},{"rho":0.031,"v":10.5,"s":"b","c":"b1"},{"rho":0.0318,"v":12,"s":"b","c":"b1"},
{"rho":0.0358,"v":4.15,"s":"b","c":"b2"},{"rho":0.0362,"v":3.95,"s":"b","c":"b2"},{"rho":0.0368,"v":3.85,"s":"b","c":"b2"},{"rho":0.0376,"v":3.8,"s":"b","c":"b2"},{"rho":0.04,"v":3.9,"s":"b","c":"b2"},{"rho":0.043,"v":4.2,"s":"b","c":"b2"},{"rho":0.046,"v":4.6,"s":"b","c":"b2"},{"rho":0.049,"v":5.0,"s":"b","c":"b2"},{"rho":0.052,"v":5.5,"s":"b","c":"b2"},{"rho":0.055,"v":6.3,"s":"b","c":"b2"},{"rho":0.058,"v":7.3,"s":"b","c":"b2"},{"rho":0.06,"v":8.2,"s":"b","c":"b2"},{"rho":0.062,"v":9.2,"s":"b","c":"b2"},{"rho":0.064,"v":10.6,"s":"b","c":"b2"},{"rho":0.0657,"v":12,"s":"b","c":"b2"},
{"rho":0.0858,"v":4.4,"s":"b","c":"b3"},{"rho":0.0872,"v":5.2,"s":"b","c":"b3"},{"rho":0.0888,"v":6.35,"s":"b","c":"b3"},{"rho":0.0906,"v":7.85,"s":"b","c":"b3"},{"rho":0.0915,"v":8.7,"s":"b","c":"b3"},{"rho":0.0925,"v":9.75,"s":"b","c":"b3"},
{"rho":0.111,"v":6.2,"s":"b","c":"b4"},{"rho":0.1112,"v":7.0,"s":"b","c":"b4"},{"rho":0.1114,"v":8.0,"s":"b","c":"b4"}
],
"p3":[
{"rho":0.0015,"v":0.435,"s":"k","c":"k1"},{"rho":0.0025,"v":0.41,"s":"k","c":"k1"},{"rho":0.0038,"v":0.393,"s":"k","c":"k1"},{"rho":0.006,"v":0.384,"s":"k","c":"k1"},{"rho":0.0088,"v":0.38,"s":"k","c":"k1"},{"rho":0.012,"v":0.381,"s":"k","c":"k1"},{"rho":0.0202,"v":0.387,"s":"k","c":"k1"},{"rho":0.028,"v":0.395,"s":"k","c":"k1"},{"rho":0.0354,"v":0.401,"s":"k","c":"k1"},{"rho":0.042,"v":0.401,"s":"k","c":"k1"},{"rho":0.0481,"v":0.398,"s":"k","c":"k1"},{"rho":0.0582,"v":0.39,"s":"k","c":"k1"},{"rho":0.0709,"v":0.382,"s":"k","c":"k1"},{"rho":0.078,"v":0.376,"s":"k","c":"k1"},{"rho":0.0842,"v":0.369,"s":"k","c":"k1"},
{"rho":0.0012,"v":0.45,"s":"r","c":"r1"},{"rho":0.0025,"v":0.41,"s":"r","c":"r1"},{"rho":0.006,"v":0.384,"s":"r","c":"r1"},{"rho":0.012,"v":0.381,"s":"r","c":"r1"},{"rho":0.0202,"v":0.387,"s":"r","c":"r1"},{"rho":0.0354,"v":0.401,"s":"r","c":"r1"},{"rho":0.0481,"v":0.398,"s":"r","c":"r1"},{"rho":0.0709,"v":0.382,"s":"r","c":"r1"},{"rho":0.0842,"v":0.369,"s":"r","c":"r1"},
{"rho":0.0024,"v":0.42,"s":"r","c":"p"},{"rho":0.002,"v":0.44,"s":"r","c":"p"},{"rho":0.0022,"v":0.46,"s":"r","c":"p"},{"rho":0.0017,"v":0.48,"s":"r","c":"p"},{"rho":0.0019,"v":0.5,"s":"r","c":"p"},{"rho":0.0014,"v":0.52,"s":"r","c":"p"},{"rho":0.0017,"v":0.54,"s":"r","c":"p"},{"rho":0.0012,"v":0.56,"s":"r","c":"p"},{"rho":0.0015,"v":0.58,"s":"r","c":"p"},{"rho":0.001,"v":0.6,"s":"r","c":"p"},{"rho":0.0013,"v":0.62,"s":"r","c":"p"},{"rho":0.0009,"v":0.64,"s":"r","c":"p"},{"rho":0.0011,"v":0.66,"s":"r","c":"p"},{"rho":0.0007,"v":0.68,"s":"r","c":"p"},{"rho":0.001,"v":0.7,"s":"r","c":"p"},{"rho":0.0006,"v":0.72,"s":"r","c":"p"},{"rho":0.0008,"v":0.74,"s":"r","c":"p"},{"rho":0.0005,"v":0.76,"s":"r","c":"p"},{"rho":0.0007,"v":0.78,"s":"r","c":"p"},{"rho":0.0004,"v":0.8,"s":"r","c":"p"},{"rho":0.0028,"v":0.4,"s":"r","c":"p"},{"rho":0.0018,"v":0.41,"s":"r","c":"p"},
{"rho":0.085,"v":0.373,"s":"r","c":"p"},{"rho":0.0855,"v":0.379,"s":"r","c":"p"},{"rho":0.085,"v":0.384,"s":"r","c":"p"},{"rho":0.0855,"v":0.39,"s":"r","c":"p"},
{"rho":0.086,"v":0.384,"s":"r","c":"p"},{"rho":0.0865,"v":0.394,"s":"r","c":"p"},{"rho":0.086,"v":0.404,"s":"r","c":"p"},{"rho":0.0865,"v":0.414,"s":"r","c":"p"},
{"rho":0.087,"v":0.395,"s":"r","c":"p"},{"rho":0.0875,"v":0.413,"s":"r","c":"p"},{"rho":0.087,"v":0.432,"s":"r","c":"p"},{"rho":0.0875,"v":0.45,"s":"r","c":"p"},
{"rho":0.088,"v":0.405,"s":"r","c":"p"},{"rho":0.0885,"v":0.432,"s":"r","c":"p"},{"rho":0.088,"v":0.458,"s":"r","c":"p"},{"rho":0.0885,"v":0.485,"s":"r","c":"p"},
{"rho":0.089,"v":0.415,"s":"r","c":"p"},{"rho":0.0895,"v":0.445,"s":"r","c":"p"},{"rho":0.089,"v":0.475,"s":"r","c":"p"},{"rho":0.0895,"v":0.505,"s":"r","c":"p"},
{"rho":0.09,"v":0.427,"s":"r","c":"p"},{"rho":0.0905,"v":0.456,"s":"r","c":"p"},{"rho":0.09,"v":0.486,"s":"r","c":"p"},{"rho":0.0905,"v":0.515,"s":"r","c":"p"},
{"rho":0.091,"v":0.438,"s":"r","c":"p"},{"rho":0.0915,"v":0.467,"s":"r","c":"p"},{"rho":0.091,"v":0.496,"s":"r","c":"p"},{"rho":0.0915,"v":0.525,"s":"r","c":"p"},
{"rho":0.092,"v":0.45,"s":"r","c":"p"},{"rho":0.0925,"v":0.478,"s":"r","c":"p"},{"rho":0.092,"v":0.507,"s":"r","c":"p"},{"rho":0.0925,"v":0.535,"s":"r","c":"p"},
{"rho":0.093,"v":0.462,"s":"r","c":"p"},{"rho":0.0935,"v":0.49,"s":"r","c":"p"},{"rho":0.093,"v":0.518,"s":"r","c":"p"},{"rho":0.0935,"v":0.546,"s":"r","c":"p"},
{"rho":0.094,"v":0.474,"s":"r","c":"p"},{"rho":0.0945,"v":0.502,"s":"r","c":"p"},{"rho":0.094,"v":0.53,"s":"r","c":"p"},{"rho":0.0945,"v":0.558,"s":"r","c":"p"},
{"rho":0.095,"v":0.486,"s":"r","c":"p"},{"rho":0.0955,"v":0.515,"s":"r","c":"p"},{"rho":0.095,"v":0.544,"s":"r","c":"p"},{"rho":0.0955,"v":0.573,"s":"r","c":"p"},
{"rho":0.096,"v":0.498,"s":"r","c":"p"},{"rho":0.0965,"v":0.528,"s":"r","c":"p"},{"rho":0.096,"v":0.558,"s":"r","c":"p"},{"rho":0.0965,"v":0.588,"s":"r","c":"p"},
{"rho":0.097,"v":0.514,"s":"r","c":"p"},{"rho":0.0975,"v":0.544,"s":"r","c":"p"},{"rho":0.097,"v":0.573,"s":"r","c":"p"},{"rho":0.0975,"v":0.603,"s":"r","c":"p"},
{"rho":0.098,"v":0.531,"s":"r","c":"p"},{"rho":0.0985,"v":0.56,"s":"r","c":"p"},{"rho":0.098,"v":0.589,"s":"r","c":"p"},{"rho":0.0985,"v":0.618,"s":"r","c":"p"},
{"rho":0.099,"v":0.548,"s":"r","c":"p"},{"rho":0.0995,"v":0.576,"s":"r","c":"p"},{"rho":0.099,"v":0.604,"s":"r","c":"p"},{"rho":0.0995,"v":0.632,"s":"r","c":"p"},
{"rho":0.1,"v":0.565,"s":"r","c":"p"},{"rho":0.1005,"v":0.592,"s":"r","c":"p"},{"rho":0.1,"v":0.618,"s":"r","c":"p"},{"rho":0.1005,"v":0.645,"s":"r","c":"p"},
{"rho":0.101,"v":0.582,"s":"r","c":"p"},{"rho":0.1015,"v":0.607,"s":"r","c":"p"},{"rho":0.101,"v":0.633,"s":"r","c":"p"},{"rho":0.1015,"v":0.658,"s":"r","c":"p"},
{"rho":0.102,"v":0.599,"s":"r","c":"p"},{"rho":0.1025,"v":0.623,"s":"r","c":"p"},{"rho":0.102,"v":0.647,"s":"r","c":"p"},{"rho":0.1025,"v":0.671,"s":"r","c":"p"},
{"rho":0.103,"v":0.615,"s":"r","c":"p"},{"rho":0.1035,"v":0.638,"s":"r","c":"p"},{"rho":0.103,"v":0.661,"s":"r","c":"p"},{"rho":0.1035,"v":0.684,"s":"r","c":"p"},
{"rho":0.104,"v":0.63,"s":"r","c":"p"},{"rho":0.1045,"v":0.652,"s":"r","c":"p"},{"rho":0.104,"v":0.675,"s":"r","c":"p"},{"rho":0.1045,"v":0.697,"s":"r","c":"p"},
{"rho":0.105,"v":0.646,"s":"r","c":"p"},{"rho":0.1055,"v":0.667,"s":"r","c":"p"},{"rho":0.105,"v":0.687,"s":"r","c":"p"},{"rho":0.1055,"v":0.708,"s":"r","c":"p"},
{"rho":0.106,"v":0.661,"s":"r","c":"p"},{"rho":0.1065,"v":0.681,"s":"r","c":"p"},{"rho":0.106,"v":0.7,"s":"r","c":"p"},{"rho":0.1065,"v":0.72,"s":"r","c":"p"},
{"rho":0.107,"v":0.676,"s":"r","c":"p"},{"rho":0.1075,"v":0.694,"s":"r","c":"p"},{"rho":0.107,"v":0.713,"s":"r","c":"p"},{"rho":0.1075,"v":0.731,"s":"r","c":"p"},
{"rho":0.108,"v":0.692,"s":"r","c":"p"},{"rho":0.1085,"v":0.709,"s":"r","c":"p"},{"rho":0.108,"v":0.725,"s":"r","c":"p"},{"rho":0.1085,"v":0.742,"s":"r","c":"p"},
{"rho":0.109,"v":0.707,"s":"r","c":"p"},{"rho":0.1095,"v":0.722,"s":"r","c":"p"},{"rho":0.109,"v":0.737,"s":"r","c":"p"},{"rho":0.1095,"v":0.752,"s":"r","c":"p"},
{"rho":0.11,"v":0.722,"s":"r","c":"p"},{"rho":0.1105,"v":0.735,"s":"r","c":"p"},{"rho":0.11,"v":0.749,"s":"r","c":"p"},{"rho":0.1105,"v":0.762,"s":"r","c":"p"},
{"rho":0.111,"v":0.74,"s":"r","c":"p"},{"rho":0.111,"v":0.752,"s":"r","c":"p"},{"rho":0.111,"v":0.763,"s":"r","c":"p"},{"rho":0.111,"v":0.775,"s":"r","c":"p"},
{"rho":0.0022,"v":0.6,"s":"g","c":"p"},{"rho":0.0025,"v":0.55,"s":"g","c":"p"},{"rho":0.0028,"v":0.5,"s":"g","c":"p"},{"rho":0.003,"v":0.46,"s":"g","c":"p"},{"rho":0.0033,"v":0.42,"s":"g","c":"p"},{"rho":0.0036,"v":0.37,"s":"g","c":"p"},{"rho":0.0039,"v":0.32,"s":"g","c":"p"},{"rho":0.0042,"v":0.28,"s":"g","c":"p"},{"rho":0.0044,"v":0.245,"s":"g","c":"p"},{"rho":0.0005,"v":0.8,"s":"g","c":"p"},{"rho":0.0008,"v":0.75,"s":"g","c":"p"},{"rho":0.001,"v":0.7,"s":"g","c":"p"},{"rho":0.0012,"v":0.66,"s":"g","c":"p"},{"rho":0.0015,"v":0.62,"s":"g","c":"p"},{"rho":0.0018,"v":0.58,"s":"g","c":"p"},
{"rho":0.0045,"v":0.41,"s":"g","c":"g1"},{"rho":0.0055,"v":0.36,"s":"g","c":"g1"},{"rho":0.0065,"v":0.42,"s":"g","c":"g1"},{"rho":0.0075,"v":0.33,"s":"g","c":"g1"},{"rho":0.0085,"v":0.41,"s":"g","c":"g1"},{"rho":0.0095,"v":0.35,"s":"g","c":"g1"},{"rho":0.011,"v":0.4,"s":"g","c":"g1"},{"rho":0.012,"v":0.365,"s":"g","c":"g1"},{"rho":0.0135,"v":0.395,"s":"g","c":"g1"},{"rho":0.015,"v":0.37,"s":"g","c":"g1"},{"rho":0.0165,"v":0.395,"s":"g","c":"g1"},{"rho":0.018,"v":0.375,"s":"g","c":"g1"},{"rho":0.02,"v":0.395,"s":"g","c":"g1"},{"rho":0.022,"v":0.38,"s":"g","c":"g1"},{"rho":0.024,"v":0.398,"s":"g","c":"g1"},{"rho":0.026,"v":0.385,"s":"g","c":"g1"},{"rho":0.028,"v":0.403,"s":"g","c":"g1"},{"rho":0.03,"v":0.39,"s":"g","c":"g1"},{"rho":0.032,"v":0.407,"s":"g","c":"g1"},{"rho":0.034,"v":0.395,"s":"g","c":"g1"},{"rho":0.036,"v":0.41,"s":"g","c":"g1"},{"rho":0.038,"v":0.395,"s":"g","c":"g1"},{"rho":0.04,"v":0.41,"s":"g","c":"g1"},{"rho":0.042,"v":0.393,"s":"g","c":"g1"},{"rho":0.044,"v":0.408,"s":"g","c":"g1"},{"rho":0.046,"v":0.39,"s":"g","c":"g1"},{"rho":0.048,"v":0.405,"s":"g","c":"g1"},{"rho":0.05,"v":0.386,"s":"g","c":"g1"},{"rho":0.052,"v":0.402,"s":"g","c":"g1"},{"rho":0.054,"v":0.383,"s":"g","c":"g1"},{"rho":0.056,"v":0.398,"s":"g","c":"g1"},{"rho":0.058,"v":0.38,"s":"g","c":"g1"},{"rho":0.06,"v":0.395,"s":"g","c":"g1"},{"rho":0.062,"v":0.376,"s":"g","c":"g1"},{"rho":0.064,"v":0.392,"s":"g","c":"g1"},{"rho":0.066,"v":0.372,"s":"g","c":"g1"},{"rho":0.068,"v":0.388,"s":"g","c":"g1"},{"rho":0.07,"v":0.368,"s":"g","c":"g1"},{"rho":0.072,"v":0.386,"s":"g","c":"g1"},{"rho":0.074,"v":0.362,"s":"g","c":"g1"},{"rho":0.076,"v":0.383,"s":"g","c":"g1"},{"rho":0.078,"v":0.36,"s":"g","c":"g1"},{"rho":0.0795,"v":0.38,"s":"g","c":"g1"},{"rho":0.081,"v":0.345,"s":"g","c":"g1"},{"rho":0.0825,"v":0.378,"s":"g","c":"g1"},{"rho":0.0835,"v":0.372,"s":"g","c":"g1"},
{"rho":0.0848,"v":0.37,"s":"g","c":"gc0"},{"rho":0.0848,"v":0.4,"s":"g","c":"gc0"},
{"rho":0.0858,"v":0.38,"s":"g","c":"gc1"},{"rho":0.0858,"v":0.41,"s":"g","c":"gc1"},
{"rho":0.0905,"v":0.44,"s":"g","c":"gc2"},{"rho":0.0905,"v":0.52,"s":"g","c":"gc2"},
{"rho":0.093,"v":0.46,"s":"g","c":"gc3"},{"rho":0.093,"v":0.56,"s":"g","c":"gc3"},
{"rho":0.0993,"v":0.54,"s":"g","c":"gc4"},{"rho":0.0993,"v":0.65,"s":"g","c":"gc4"},
{"rho":0.1006,"v":0.55,"s":"g","c":"gc5"},{"rho":0.1006,"v":0.64,"s":"g","c":"gc5"},
{"rho":0.1063,"v":0.64,"s":"g","c":"gc6"},{"rho":0.1063,"v":0.72,"s":"g","c":"gc6"},
{"rho":0.1088,"v":0.7,"s":"g","c":"gc7"},{"rho":0.1088,"v":0.76,"s":"g","c":"gc7"},
{"rho":0.0042,"v":0.801,"s":"b","c":"b1"},{"rho":0.0055,"v":0.715,"s":"b","c":"b1"},{"rho":0.0076,"v":0.607,"s":"b","c":"b1"},{"rho":0.01,"v":0.54,"s":"b","c":"b1"},{"rho":0.0139,"v":0.468,"s":"b","c":"b1"},{"rho":0.0202,"v":0.385,"s":"b","c":"b1"},{"rho":0.0266,"v":0.306,"s":"b","c":"b1"},{"rho":0.0329,"v":0.22,"s":"b","c":"b1"},{"rho":0.0345,"v":0.2,"s":"b","c":"b1"},
{"rho":0.0361,"v":0.387,"s":"b","c":"b2"},{"rho":0.0365,"v":0.42,"s":"b","c":"b2"},{"rho":0.0373,"v":0.45,"s":"b","c":"b2"},{"rho":0.039,"v":0.458,"s":"b","c":"b2"},{"rho":0.0405,"v":0.457,"s":"b","c":"b2"},{"rho":0.0456,"v":0.435,"s":"b","c":"b2"},{"rho":0.0519,"v":0.382,"s":"b","c":"b2"},{"rho":0.0582,"v":0.339,"s":"b","c":"b2"},{"rho":0.0652,"v":0.276,"s":"b","c":"b2"},
{"rho":0.0858,"v":0.559,"s":"b","c":"b3"},{"rho":0.088,"v":0.52,"s":"b","c":"b3"},{"rho":0.0905,"v":0.475,"s":"b","c":"b3"},{"rho":0.0926,"v":0.441,"s":"b","c":"b3"},
{"rho":0.1107,"v":0.782,"s":"b","c":"b4"},{"rho":0.1117,"v":0.731,"s":"b","c":"b4"},
{"rho":0.0355,"v":0.2,"s":"b","c":"p"}
]
},
"spacing":1,
"resolve":{"scale":{"color":"independent"},"legend":{"color":"independent"}},
"vconcat":[
{"width":342,"height":201,"data":{"name":"p1"},
 "resolve":{"scale":{"x":"independent","y":"independent"}},
 "layer":[
  {"layer":[
   {"transform":[{"filter":"datum.s=='r'&&datum.c!='p'"}],"mark":{"type":"line","color":"#ff0000","strokeWidth":4,"interpolate":"monotone"},
    "encoding":{"x":{"field":"rho","type":"quantitative","scale":{"domain":[0,0.125],"nice":false,"zero":false},"axis":{"orient":"bottom","values":[0,0.01,0.02,0.03,0.04,0.05,0.06,0.07,0.08,0.09,0.1,0.11,0.12],"labelExpr":"datum.value==0?'0':indexof([0.04,0.08,0.12],datum.value)>=0?format(datum.value,'.2f'):''","title":null}},
     "y":{"field":"v","type":"quantitative","scale":{"domain":[0,3.5],"nice":false,"zero":false},"axis":{"orient":"left","values":[0,0.2,0.4,0.6,0.8,1,1.2,1.4,1.6,1.8,2,2.2,2.4,2.6,2.8,3,3.2,3.4],"labelExpr":"datum.value%1==0?''+datum.value:''","title":"|ω|ₘₐₓ (MeV)","titlePadding":16}},
     "detail":{"field":"c"}}},
   {"transform":[{"filter":"datum.c=='p'"}],"mark":{"type":"point","filled":true,"shape":"square","size":8,"opacity":1,"strokeWidth":0},
    "encoding":{"x":{"field":"rho","type":"quantitative","scale":{"domain":[0,0.125],"nice":false,"zero":false},"axis":{"orient":"top","values":[0,0.01,0.02,0.03,0.04,0.05,0.06,0.07,0.08,0.09,0.1,0.11,0.12],"labels":false,"title":null}},
     "y":{"field":"v","type":"quantitative","scale":{"domain":[0,3.5],"nice":false,"zero":false},"axis":{"orient":"right","values":[0,0.2,0.4,0.6,0.8,1,1.2,1.4,1.6,1.8,2,2.2,2.4,2.6,2.8,3,3.2,3.4],"labels":false,"title":null}},
     "color":{"field":"s","type":"nominal","scale":{"domain":["r","g","b","k"],"range":["#ff0000","#00f000","#0000ff","#000000"]},"legend":null}}},
   {"transform":[{"filter":"datum.s=='g'&&datum.c!='p'"}],"mark":{"type":"line","color":"#00f000","strokeWidth":2},
    "encoding":{"x":{"field":"rho","type":"quantitative","axis":null},"y":{"field":"v","type":"quantitative","axis":null},"detail":{"field":"c"}}},
   {"transform":[{"filter":"datum.s=='k'"}],"mark":{"type":"line","color":"#000000","strokeWidth":1.6,"interpolate":"monotone"},
    "encoding":{"x":{"field":"rho","type":"quantitative","axis":null},"y":{"field":"v","type":"quantitative","axis":null}}},
   {"transform":[{"filter":"datum.s=='b'&&datum.c!='p'"}],"mark":{"type":"line","color":"#0000ff","strokeWidth":3.5},
    "encoding":{"x":{"field":"rho","type":"quantitative","axis":null},"y":{"field":"v","type":"quantitative","axis":null},"detail":{"field":"c"}}},
   {"data":{"values":[{}]},"mark":{"type":"text","align":"left","baseline":"middle","fontSize":16},
    "encoding":{"x":{"datum":0.0405,"type":"quantitative","axis":null},"y":{"datum":0.975,"type":"quantitative","axis":null},"text":{"value":"AMM"}}},
   {"data":{"values":[{}]},"mark":{"type":"text","align":"left","baseline":"middle","fontSize":16},
    "encoding":{"x":{"datum":0.0405,"type":"quantitative","axis":null},"y":{"datum":0.42,"type":"quantitative","axis":null},"text":{"value":"NL3wr"}}},
   {"data":{"values":[{}]},"mark":{"type":"text","align":"left","baseline":"middle","fontSize":16},
    "encoding":{"x":{"datum":0.0949,"type":"quantitative","axis":null},"y":{"datum":0.52,"type":"quantitative","axis":null},"text":{"value":"yₚ=0.035"}}}
  ]},
  {"layer":[
   {"data":{"values":[{}]},"mark":{"type":"rect","fill":"white","stroke":"#000000","strokeWidth":1},
    "encoding":{"x":{"datum":0.0813,"type":"quantitative","scale":{"domain":[0.0813,0.1155],"range":[199.7,341.3],"nice":false,"zero":false},"axis":{"orient":"bottom","offset":-90.3,"values":[0.085,0.09,0.095,0.1,0.105,0.11,0.115],"labelExpr":"datum.value==0.09?'0.09':datum.value==0.1?'0.1':datum.value==0.11?'0.11':''","title":null,"domain":false,"tickSize":-4}},
     "x2":{"datum":0.1155},
     "y":{"datum":0,"type":"quantitative","scale":{"domain":[0,0.1103],"range":[110.7,3.3],"nice":false,"zero":false},"axis":{"orient":"left","offset":-199.7,"values":[0.02,0.04,0.06,0.08,0.1],"labelExpr":"datum.value==0.06?'0.06':datum.value==0.1?'0.1':''","title":null,"domain":false,"tickSize":-4}},
     "y2":{"datum":0.1103}}},
   {"transform":[{"filter":"datum.c=='p'&&datum.rho>=0.0813&&datum.rho<=0.1155&&datum.v<=0.1104"}],"mark":{"type":"point","filled":true,"shape":"square","size":12,"opacity":1,"strokeWidth":0},
    "encoding":{"x":{"field":"rho","type":"quantitative","axis":{"orient":"top","offset":-3.3,"values":[0.085,0.09,0.095,0.1,0.105,0.11,0.115],"labels":false,"title":null,"domain":false,"tickSize":-4}},
     "y":{"field":"v","type":"quantitative","axis":{"orient":"right","offset":-0.7,"values":[0.02,0.04,0.06,0.08,0.1],"labels":false,"title":null,"domain":false,"tickSize":-4}},
     "color":{"field":"s","type":"nominal","scale":{"domain":["r","g","b","k"],"range":["#ff0000","#00f000","#0000ff","#000000"]},"legend":null}}},
   {"transform":[{"filter":"datum.s=='r'&&datum.c!='p'&&datum.rho>=0.0813&&datum.rho<=0.1155&&datum.v<=0.1104"}],"mark":{"type":"line","color":"#ff0000","strokeWidth":4},
    "encoding":{"x":{"field":"rho","type":"quantitative","axis":null},"y":{"field":"v","type":"quantitative","axis":null},"detail":{"field":"c"}}},
   {"transform":[{"filter":"datum.s=='g'&&datum.c!='p'&&datum.rho>=0.0813&&datum.rho<=0.1155&&datum.v<=0.1104"}],"mark":{"type":"line","color":"#00f000","strokeWidth":2.5},
    "encoding":{"x":{"field":"rho","type":"quantitative","axis":null},"y":{"field":"v","type":"quantitative","axis":null},"detail":{"field":"c"}}},
   {"transform":[{"filter":"datum.s=='k'&&datum.rho>=0.0813&&datum.rho<=0.1155&&datum.v<=0.1104"}],"mark":{"type":"line","color":"#000000","strokeWidth":2},
    "encoding":{"x":{"field":"rho","type":"quantitative","axis":null},"y":{"field":"v","type":"quantitative","axis":null}}},
   {"transform":[{"filter":"datum.s=='b'&&datum.c!='p'&&datum.rho>=0.0813&&datum.rho<=0.1155&&datum.v<=0.1104"}],"mark":{"type":"line","color":"#0000ff","strokeWidth":3},
    "encoding":{"x":{"field":"rho","type":"quantitative","axis":null},"y":{"field":"v","type":"quantitative","axis":null},"detail":{"field":"c"}}}
  ]}
 ]},
{"width":342,"height":201,"data":{"name":"p2"},
 "layer":[
  {"transform":[{"filter":"datum.s=='r'&&datum.c!='p'"}],"mark":{"type":"line","color":"#ff0000","strokeWidth":4,"interpolate":"monotone"},
   "encoding":{"x":{"field":"rho","type":"quantitative","scale":{"domain":[0,0.125],"nice":false,"zero":false},"axis":{"orient":"bottom","values":[0,0.01,0.02,0.03,0.04,0.05,0.06,0.07,0.08,0.09,0.1,0.11,0.12],"labelExpr":"datum.value==0?'0':indexof([0.04,0.08,0.12],datum.value)>=0?format(datum.value,'.2f'):''","title":null}},
    "y":{"field":"v","type":"quantitative","scale":{"domain":[2,12],"nice":false,"zero":false},"axis":{"orient":"left","values":[2,3,4,5,6,7,8,9,10,11,12],"labelExpr":"datum.value%2==0?''+datum.value:''","title":"λ/2 (fm)","titlePadding":20}},
    "detail":{"field":"c"}}},
  {"transform":[{"filter":"datum.c=='p'"}],"mark":{"type":"point","filled":true,"shape":"square","size":10,"opacity":1,"strokeWidth":0},
   "encoding":{"x":{"field":"rho","type":"quantitative","scale":{"domain":[0,0.125],"nice":false,"zero":false},"axis":{"orient":"top","values":[0,0.01,0.02,0.03,0.04,0.05,0.06,0.07,0.08,0.09,0.1,0.11,0.12],"labels":false,"title":null}},
    "y":{"field":"v","type":"quantitative","scale":{"domain":[2,12],"nice":false,"zero":false},"axis":{"orient":"right","values":[2,3,4,5,6,7,8,9,10,11,12],"labels":false,"title":null}},
    "color":{"field":"s","type":"nominal","scale":{"domain":["r","g","b","k"],"range":["#ff0000","#00f000","#0000ff","#000000"]},"legend":null}}},
  {"transform":[{"filter":"datum.s=='g'&&datum.c!='p'"}],"mark":{"type":"line","color":"#00f000","strokeWidth":2.5},
   "encoding":{"x":{"field":"rho","type":"quantitative","axis":null},"y":{"field":"v","type":"quantitative","axis":null},"detail":{"field":"c"}}},
  {"transform":[{"filter":"datum.s=='k'"}],"mark":{"type":"line","color":"#000000","strokeWidth":1.6,"interpolate":"monotone"},
   "encoding":{"x":{"field":"rho","type":"quantitative","axis":null},"y":{"field":"v","type":"quantitative","axis":null}}},
  {"transform":[{"filter":"datum.s=='b'&&datum.c!='p'"}],"mark":{"type":"line","color":"#0000ff","strokeWidth":3.5},
   "encoding":{"x":{"field":"rho","type":"quantitative","axis":null},"y":{"field":"v","type":"quantitative","axis":null},"detail":{"field":"c"}}}
 ]},
{"width":342,"height":186,"data":{"name":"p3"},
 "layer":[
  {"transform":[{"filter":"datum.s=='r'&&datum.c!='p'"}],"mark":{"type":"line","strokeWidth":4,"interpolate":"monotone"},
   "encoding":{"x":{"field":"rho","type":"quantitative","scale":{"domain":[0,0.125],"range":[13,342],"nice":false,"zero":false},"axis":{"orient":"bottom","values":[0,0.01,0.02,0.03,0.04,0.05,0.06,0.07,0.08,0.09,0.1,0.11,0.12],"labelExpr":"datum.value==0?'0':indexof([0.04,0.08,0.12],datum.value)>=0?format(datum.value,'.2f'):''","title":"ρ (fm⁻³)","titlePadding":10}},
    "y":{"field":"v","type":"quantitative","scale":{"domain":[0.2,0.8],"nice":false,"zero":false},"axis":{"orient":"left","offset":-13,"values":[0.2,0.25,0.3,0.35,0.4,0.45,0.5,0.55,0.6,0.65,0.7,0.75,0.8],"labelExpr":"indexof([0.2,0.4,0.6,0.8],datum.value)>=0?format(datum.value,'.1f'):''","title":"δρₚ/δρₙ","titlePadding":18}},
    "detail":{"field":"c"},
    "color":{"field":"s","type":"nominal","scale":{"domain":["r","g","b","k"],"range":["#ff0000","#00f000","#0000ff","#000000"]},
     "legend":{"orient":"none","legendX":158,"legendY":10,"title":null,"values":["r","g","b","k"],"direction":"vertical",
      "labelExpr":"datum.value=='r'?'B*=10²':datum.value=='g'?'B*=10³':datum.value=='b'?'B*=10⁴':'B=0'",
      "labelAlign":"right","labelOffset":-34,"labelFontSize":15,"labelFont":"Liberation Sans","labelColor":"#000","symbolSize":9,"rowPadding":2,"padding":0,
      "encode":{"symbols":{"update":{
        "shape":{"signal":"datum.value=='k'?'M-15,0H15':'square'"},
        "fill":{"signal":"datum.value=='r'?'#ff0000':datum.value=='g'?'#00f000':datum.value=='b'?'#0000ff':'transparent'"},
        "stroke":{"signal":"datum.value=='k'?'#000000':'transparent'"},
        "strokeWidth":{"signal":"datum.value=='k'?2:0"},
        "opacity":{"value":1}}}}}}}},
  {"transform":[{"filter":"datum.c=='p'"}],"mark":{"type":"point","filled":true,"shape":"square","opacity":1,"strokeWidth":0},
   "encoding":{"x":{"field":"rho","type":"quantitative","scale":{"domain":[0,0.125],"range":[13,342],"nice":false,"zero":false},"axis":{"orient":"top","values":[0,0.01,0.02,0.03,0.04,0.05,0.06,0.07,0.08,0.09,0.1,0.11,0.12],"labels":false,"title":null}},
    "y":{"field":"v","type":"quantitative","scale":{"domain":[0.2,0.8],"nice":false,"zero":false},"axis":{"orient":"right","values":[0.2,0.25,0.3,0.35,0.4,0.45,0.5,0.55,0.6,0.65,0.7,0.75,0.8],"labels":false,"title":null}},
    "color":{"field":"s","type":"nominal","legend":null},
    "size":{"field":"s","type":"nominal","scale":{"domain":["r","g","b"],"range":[24,9,12]},"legend":null}}},
  {"transform":[{"filter":"datum.s=='g'&&datum.c!='p'"}],"mark":{"type":"line","color":"#00f000","strokeWidth":2.5},
   "encoding":{"x":{"field":"rho","type":"quantitative","axis":null},"y":{"field":"v","type":"quantitative","axis":null},"detail":{"field":"c"}}},
  {"transform":[{"filter":"datum.s=='k'"}],"mark":{"type":"line","color":"#000000","strokeWidth":1.6,"interpolate":"monotone"},
   "encoding":{"x":{"field":"rho","type":"quantitative","axis":null},"y":{"field":"v","type":"quantitative","axis":null}}},
  {"transform":[{"filter":"datum.s=='b'&&datum.c!='p'"}],"mark":{"type":"line","color":"#0000ff","strokeWidth":3.5},
   "encoding":{"x":{"field":"rho","type":"quantitative","axis":null},"y":{"field":"v","type":"quantitative","axis":null},"detail":{"field":"c"}}}
 ]}
]
}
